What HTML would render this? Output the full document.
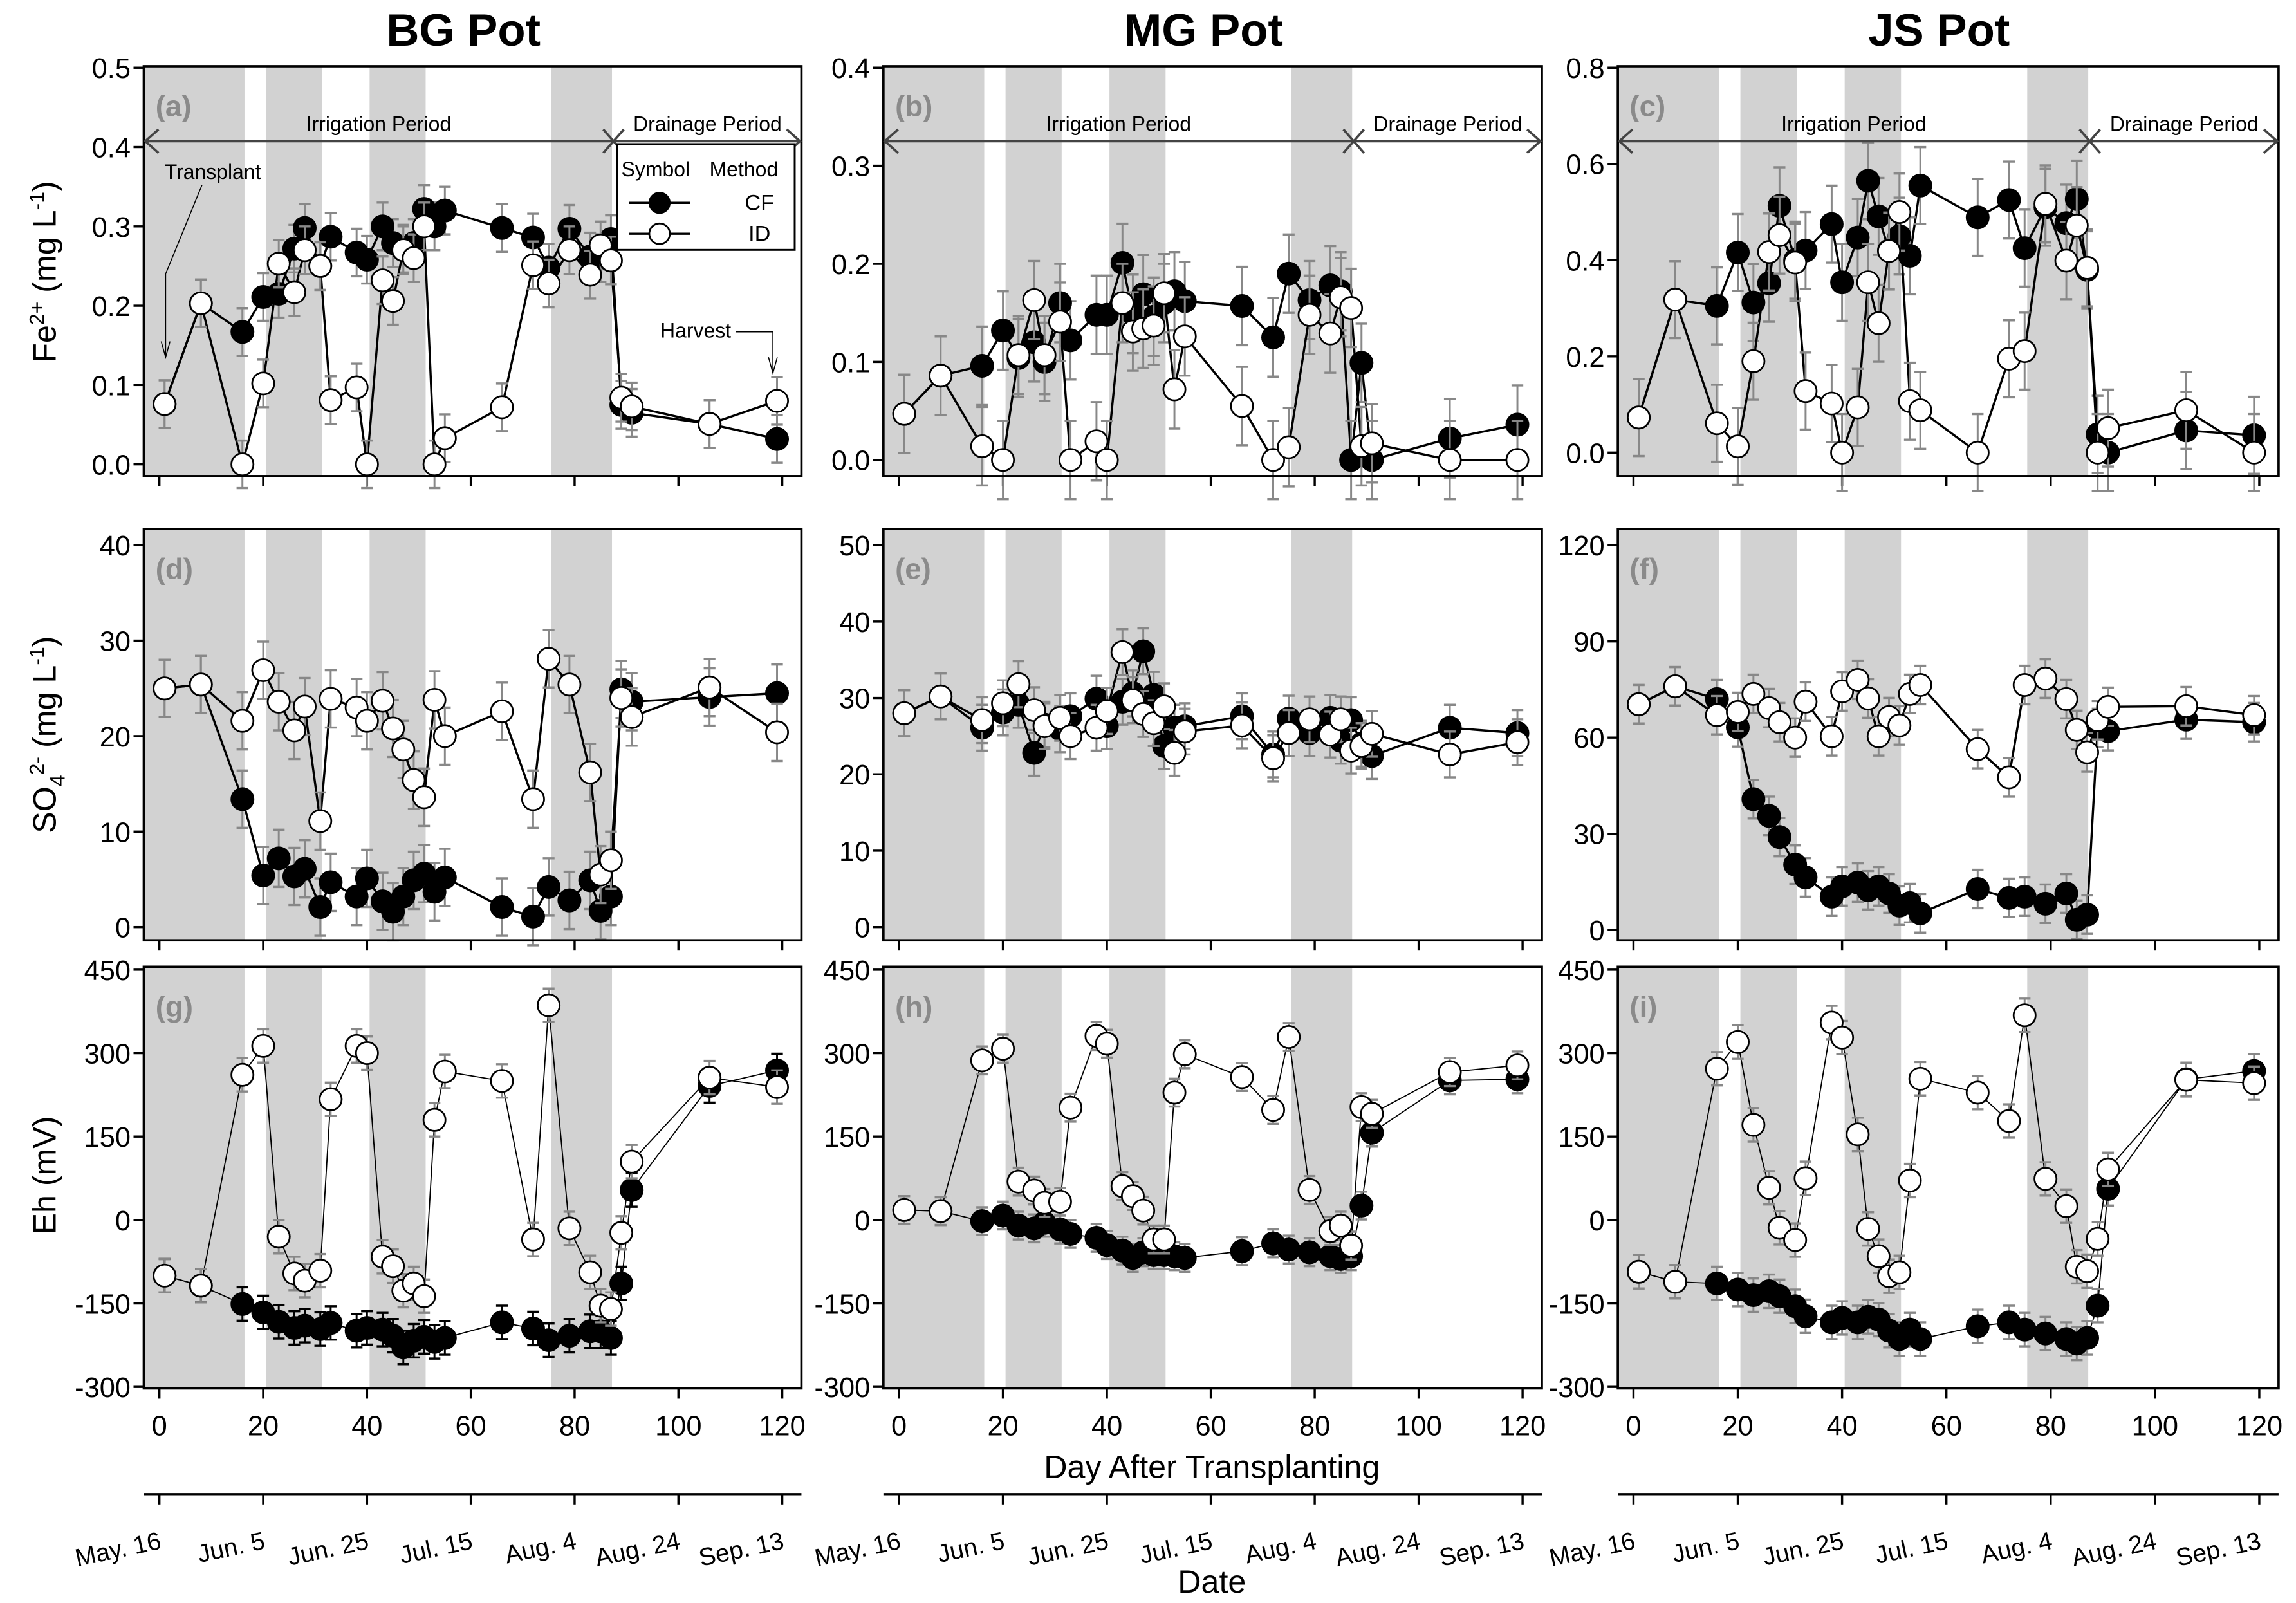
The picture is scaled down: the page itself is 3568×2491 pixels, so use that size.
<!DOCTYPE html>
<html><head><meta charset="utf-8"><title>Fe, SO4, Eh by pot</title>
<style>
html,body{margin:0;padding:0;background:#fff;}
svg{display:block;font-family:"Liberation Sans",Arial,sans-serif;}
</style></head>
<body>
<svg id="chart" xmlns="http://www.w3.org/2000/svg" width="3568" height="2491" viewBox="0 0 1563 1091">
<rect x="0" y="0" width="1563" height="1091" fill="#fff"/>
</svg>
<script>
const days=[1,8,16,20,23,26,28,31,33,38,40,43,45,47,49,51,53,55,66,72,75,79,83,85,87,89,91,106,119];
const aID=[0.076,0.203,0,0.102,0.253,0.217,0.27,0.25,0.081,0.097,0,0.232,0.206,0.27,0.26,0.30,0,0.033,0.072,0.251,0.228,0.27,0.239,0.276,0.257,0.084,0.073,0.051,0.080];
const aCF=[0.076,0.203,0.167,0.211,0.215,0.272,0.298,0.25,0.287,0.267,0.258,0.30,0.279,0.272,0.279,0.322,0.30,0.32,0.298,0.286,0.248,0.297,0.262,0.26,0.284,0.075,0.065,0.051,0.032];
const bID=[0.047,0.086,0.014,0,0.107,0.163,0.107,0.141,0,0.019,0,0.16,0.131,0.134,0.137,0.17,0.072,0.126,0.055,0,0.013,0.148,0.129,0.166,0.155,0.014,0.017,0,0];
const bCF=[0.047,0.086,0.096,0.132,0.104,0.12,0.10,0.16,0.122,0.148,0.148,0.201,0.149,0.169,0.146,0.16,0.172,0.162,0.157,0.125,0.19,0.163,0.178,0.172,0,0.099,0,0.022,0.036];
const cID=[0.073,0.318,0.061,0.013,0.19,0.417,0.452,0.395,0.128,0.102,0,0.094,0.354,0.269,0.419,0.50,0.107,0.088,0,0.195,0.211,0.517,0.399,0.472,0.384,0,0.051,0.088,0];
const cCF=[0.073,0.318,0.305,0.416,0.312,0.352,0.513,0.40,0.42,0.475,0.354,0.447,0.565,0.491,0.42,0.45,0.409,0.555,0.489,0.525,0.425,0.51,0.477,0.527,0.38,0.038,0,0.046,0.036];
const dID=[25.0,25.4,21.6,26.9,23.6,20.6,23.1,11.1,23.9,23.0,21.6,23.7,20.8,18.6,15.4,13.6,23.8,20.0,22.6,13.4,28.1,25.4,16.2,5.5,7.0,24.0,22.0,25.1,20.4];
const dCF=[25.0,25.4,13.4,5.4,7.2,5.3,6.1,2.1,4.7,3.2,5.1,2.7,1.6,3.2,4.9,5.6,3.7,5.2,2.1,1.1,4.2,2.8,4.9,1.7,3.2,24.9,23.6,24.1,24.5];
const eID=[28.0,30.2,27.1,29.3,31.8,28.4,26.3,27.4,25.0,26.1,28.3,36.0,29.7,27.9,26.7,28.9,22.8,25.6,26.4,22.1,25.4,27.2,25.2,27.2,23.1,23.7,25.3,22.6,24.2];
const eCF=[28.0,30.2,26.1,28.1,29.1,22.8,26.5,25.9,27.6,29.9,26.3,29.5,30.6,36.1,30.4,23.7,26.1,26.3,27.6,22.6,27.3,25.4,27.4,24.4,27.1,24.0,22.4,26.1,25.4];
const fID=[70.4,76,67,68,73.6,69.2,64.8,60,71.2,60.4,74.4,78,72.2,60.4,66.4,63.8,73.6,76.4,56.4,47.6,76.4,78.4,72,62.4,55.4,65.4,69.6,69.8,67];
const fCF=[70.4,76,72,63.2,40.8,35.6,29,20.4,16.4,10.4,13.6,14.8,12.4,13.6,11.4,7.6,8.4,5.2,12.8,10,10.4,8.2,11.4,3.2,4.8,63,62,65.6,64.8];
const gID=[-100,-118,261,313,-30,-96,-109,-91,217,313,300,-66,-83,-127,-114,-137,180,267,250,-35,386,-15,-94,-154,-160,-23,105,256,239];
const gCF=[-100,-118,-151,-166,-183,-194,-190,-196,-185,-199,-194,-197,-208,-229,-217,-210,-219,-212,-184,-195,-216,-208,-200,-200,-212,-114,54,241,269];
const hID=[18,16,287,308,69,53,31,33,202,331,317,61,43,17,-35,-35,229,298,257,198,329,54,-20,-10,-46,203,191,266,278];
const hCF=[18,16,-2,8,-10,-15,-5,-17,-25,-32,-45,-55,-68,-58,-63,-63,-65,-68,-56,-42,-53,-58,-65,-70,-65,26,157,251,253];
const iID=[-93,-111,272,320,171,58,-14,-36,75,355,328,154,-16,-65,-101,-94,71,254,229,178,368,74,25,-84,-92,-34,91,252,246];
const iCF=[-93,-111,-114,-125,-135,-128,-137,-155,-173,-184,-176,-184,-174,-179,-199,-214,-197,-214,-191,-184,-197,-204,-214,-222,-212,-154,56,253,268];
const errTypical=[0.03,0.04,0.08,3,3,6,30,25,30];
const shadeBands=[[-3,16.4],[20.5,31.3],[40.5,51.3],[75.5,87.2]];
const dayTicks=[0,20,40,60,80,100,120];
const dateLabels=["May. 16","Jun. 5","Jun. 25","Jul. 15","Aug. 4","Aug. 24","Sep. 13"];
const potTitles=["BG Pot","MG Pot","JS Pot"];

const NS="http://www.w3.org/2000/svg";
const svg=document.getElementById('chart');
function el(tag,attrs,parent,text){const e=document.createElementNS(NS,tag);for(const k in attrs)e.setAttribute(k,attrs[k]);if(text!==undefined)e.textContent=text;(parent||svg).appendChild(e);return e;}

const cols=[{x0:108.5,x1:532.5},{x0:612,x1:1036.5},{x0:1112,x1:1538}];
const rows=[{top:45,bot:324},{top:360,bot:640},{top:658,bot:945}];
const panels=[
 {lab:'(a)',c:0,r:0,ymin:0,ymax:0.5,p0:316,p1:46,ticks:[0,0.1,0.2,0.3,0.4,0.5],dec:1,ID:aID,CF:aCF},
 {lab:'(b)',c:1,r:0,ymin:0,ymax:0.4,p0:313,p1:46,ticks:[0,0.1,0.2,0.3,0.4],dec:1,ID:bID,CF:bCF},
 {lab:'(c)',c:2,r:0,ymin:0,ymax:0.8,p0:308,p1:46,ticks:[0,0.2,0.4,0.6,0.8],dec:1,ID:cID,CF:cCF},
 {lab:'(d)',c:0,r:1,ymin:0,ymax:40,p0:631,p1:371,ticks:[0,10,20,30,40],dec:0,ID:dID,CF:dCF},
 {lab:'(e)',c:1,r:1,ymin:0,ymax:50,p0:631,p1:371,ticks:[0,10,20,30,40,50],dec:0,ID:eID,CF:eCF},
 {lab:'(f)',c:2,r:1,ymin:0,ymax:120,p0:633,p1:371,ticks:[0,30,60,90,120],dec:0,ID:fID,CF:fCF},
 {lab:'(g)',c:0,r:2,ymin:-300,ymax:450,p0:944,p1:660,ticks:[-300,-150,0,150,300,450],dec:0,ID:gID,CF:gCF},
 {lab:'(h)',c:1,r:2,ymin:-300,ymax:450,p0:944,p1:660,ticks:[-300,-150,0,150,300,450],dec:0,ID:hID,CF:hCF},
 {lab:'(i)',c:2,r:2,ymin:-300,ymax:450,p0:944,p1:660,ticks:[-300,-150,0,150,300,450],dec:0,ID:iID,CF:iCF}
];

panels.forEach((p,pi)=>{
  const col=cols[p.c], row=rows[p.r];
  const xs=d=>col.x0+d*(col.x1-col.x0)/120;
  const ys=v=>p.p0+(v-p.ymin)*(p.p1-p.p0)/(p.ymax-p.ymin);
  const L=xs(-3), R=xs(123.7);
  const g=el('g',{});
  
  
  shadeBands.forEach(b=>{
    const s=el('rect',{x:Math.max(L,xs(b[0])),y:row.top,width:xs(b[1])-Math.max(L,xs(b[0])),height:row.bot-row.top,fill:'#d2d2d2'},g);
    
    
  });
  const lab=el('text',{x:L+8,y:row.top+34,'font-size':20,'font-weight':'bold',fill:'#8a8a8a'},g,p.lab);
  
  
  p.ticks.forEach(t=>{
    el('line',{x1:L-7,x2:L,y1:ys(t),y2:ys(t),stroke:'#000','stroke-width':1.5},g);
    const tl=el('text',{x:L-9,y:ys(t)+7,'font-size':19,'text-anchor':'end'},g,t.toFixed(p.dec));
    
    
  });
  dayTicks.forEach(d=>{
    el('line',{x1:xs(d),x2:xs(d),y1:row.bot,y2:row.bot+7,stroke:'#000','stroke-width':1.5},g);
    if(p.r===2){
      const xl=el('text',{x:xs(d),y:row.bot+32,'font-size':19,'text-anchor':'middle'},g,String(d));
      
      
    }
  });
  const lw=p.r===2?0.8:1.5;
  const err=errTypical[pi];
  [['CF',p.CF,'#000'],['ID',p.ID,'#fff']].forEach(([nm,arr,fill])=>{
    let dstr='';
    arr.forEach((v,k)=>{if(v===null)return;dstr+=(dstr?'L':'M')+xs(days[k]).toFixed(1)+','+ys(v).toFixed(1);});
    const ln=el('path',{d:dstr,fill:'none',stroke:'#000','stroke-width':lw},g);
    
    
    arr.forEach((v,k)=>{
      if(v===null)return;
      const x=xs(days[k]);
      const ec=(nm==='CF'&&pi===6)?'#000':'#888';
      el('line',{x1:x,x2:x,y1:ys(v-err),y2:ys(v+err),stroke:ec,'stroke-width':1.3},g);
      el('line',{x1:x-4,x2:x+4,y1:ys(v-err),y2:ys(v-err),stroke:ec,'stroke-width':1.5},g);
      el('line',{x1:x-4,x2:x+4,y1:ys(v+err),y2:ys(v+err),stroke:ec,'stroke-width':1.5},g);
    });
    arr.forEach((v,k)=>{
      if(v===null)return;
      const c=el('circle',{cx:xs(days[k]),cy:ys(v),r:7.5,fill:fill,stroke:'#000','stroke-width':1.2},g);
      
      
    });
  });
  const box=el('rect',{x:L,y:row.top,width:R-L,height:row.bot-row.top,fill:'none',stroke:'#000','stroke-width':1.6},g);
  
  
  if(p.r===0){
    const ay=96, mx=xs(87.5);
    const ag=el('g',{stroke:'#444','stroke-width':1.6,fill:'none'},g);
    
    
    el('line',{x1:L+1,x2:R-1,y1:ay,y2:ay},ag);
    el('polyline',{points:`${L+10},${ay-8} ${L+1},${ay} ${L+10},${ay+8}`},ag);
    el('polyline',{points:`${R-10},${ay-8} ${R-1},${ay} ${R-10},${ay+8}`},ag);
    el('line',{x1:mx-7,x2:mx+7,y1:ay-8,y2:ay+8},ag);
    el('line',{x1:mx-7,x2:mx+7,y1:ay+8,y2:ay-8},ag);
    const t1=el('text',{x:(L+mx)/2,y:ay-7,'font-size':14,'text-anchor':'middle'},g,'Irrigation Period');
    
    
    const t2=el('text',{x:(mx+R)/2,y:ay-7,'font-size':14,'text-anchor':'middle'},g,'Drainage Period');
    
    
    const tt=el('text',{x:(col.x0+col.x1)/2-5,y:31,'font-size':31,'font-weight':'bold','text-anchor':'middle'},svg,potTitles[p.c]);
    
    
  }
  if(pi===0){
    const lg=el('g',{},g);
    
    
    el('rect',{x:420,y:98,width:121,height:72,fill:'#fff',stroke:'#000','stroke-width':1.3},lg);
    el('text',{x:423,y:120,'font-size':14},lg,'Symbol');
    el('text',{x:483,y:120,'font-size':14},lg,'Method');
    el('line',{x1:428,x2:470,y1:138,y2:138,stroke:'#000','stroke-width':1.5},lg);
    el('circle',{cx:449,cy:138,r:7,fill:'#000',stroke:'#000'},lg);
    const lc=el('text',{x:517,y:143,'font-size':15,'text-anchor':'middle'},lg,'CF');
    
    
    el('line',{x1:428,x2:470,y1:159,y2:159,stroke:'#000','stroke-width':1.5},lg);
    el('circle',{cx:449,cy:159,r:7,fill:'#fff',stroke:'#000','stroke-width':1.2},lg);
    const li=el('text',{x:517,y:164,'font-size':15,'text-anchor':'middle'},lg,'ID');
    
    
    const tr=el('text',{x:xs(1),y:ys(0.36),'font-size':14},g,'Transplant');
    
    
    el('polyline',{points:`${xs(8.2)},${ys(0.352)} ${xs(1.2)},${ys(0.24)} ${xs(1.2)},${ys(0.135)}`,fill:'none',stroke:'#000','stroke-width':0.7},g);
    el('polyline',{points:`${xs(1.2)-3},${ys(0.155)} ${xs(1.2)},${ys(0.135)} ${xs(1.2)+3},${ys(0.155)}`,fill:'none',stroke:'#000','stroke-width':0.7},g);
    const hv=el('text',{x:xs(96.5),y:ys(0.16),'font-size':14},g,'Harvest');
    
    
    el('polyline',{points:`${xs(111)},${ys(0.167)} ${xs(118.2)},${ys(0.167)} ${xs(118.2)},${ys(0.115)}`,fill:'none',stroke:'#000','stroke-width':0.7},g);
    el('polyline',{points:`${xs(118.2)-3},${ys(0.135)} ${xs(118.2)},${ys(0.115)} ${xs(118.2)+3},${ys(0.135)}`,fill:'none',stroke:'#000','stroke-width':0.7},g);
  }
  if(p.r===2){
    const dg=el('g',{},svg);
    
    
    el('line',{x1:L,x2:R,y1:1017,y2:1017,stroke:'#000','stroke-width':1.5},dg);
    dayTicks.forEach((d,k)=>{
      el('line',{x1:xs(d),x2:xs(d),y1:1017,y2:1024,stroke:'#000','stroke-width':1.5},dg);
      const tx=xs(d)+2, ty=1054;
      const dl=el('text',{x:tx,y:ty,'font-size':17,'text-anchor':'end',transform:`rotate(-12 ${tx} ${ty})`},dg,dateLabels[k]);
      
      
    });
  }
});
function ytitle(cy,html,name){
  const t=el('text',{x:0,y:0,'font-size':22,'text-anchor':'middle',transform:`translate(38 ${cy}) rotate(-90)`});
  t.innerHTML=html;
  
  
}
ytitle(185,'Fe<tspan dy="-8" font-size="14">2+</tspan><tspan dy="8"> (mg L</tspan><tspan dy="-8" font-size="14">-1</tspan><tspan dy="8">)</tspan>','y-axis-title-fe');
ytitle(500,'SO<tspan dy="6" font-size="14">4</tspan><tspan dy="-14" font-size="14">2-</tspan><tspan dy="8"> (mg L</tspan><tspan dy="-8" font-size="14">-1</tspan><tspan dy="8">)</tspan>','y-axis-title-so4');
ytitle(800,'Eh (mV)','y-axis-title-eh');
const xt=el('text',{x:825,y:1006,'font-size':22,'text-anchor':'middle'},svg,'Day After Transplanting');


const dt=el('text',{x:825,y:1084,'font-size':22,'text-anchor':'middle'},svg,'Date');


</script>
</body></html>
